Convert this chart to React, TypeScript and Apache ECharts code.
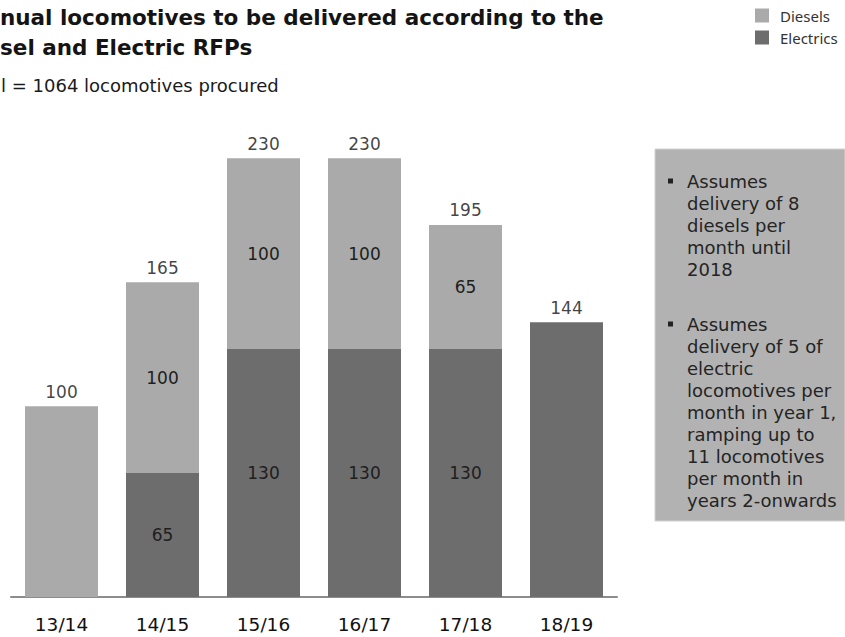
import React, { useEffect, useRef } from "react";
import * as echarts from "echarts";

const categories = ["13/14", "14/15", "15/16", "16/17", "17/18", "18/19"];
const diesels = [100, 100, 100, 100, 65, 0];
const electrics = [0, 65, 130, 130, 130, 144];
const totals = diesels.map((d, i) => d + electrics[i]);
const legendNames = ["Diesels", "Electrics"];
const titleLines = ["nual locomotives to be delivered according to the", "sel and Electric RFPs"];
const subtitle = "l = 1064 locomotives procured";
const noteDiesel = ["Assumes", "delivery of 8", "diesels per", "month until", "2018"];
const noteElectric = [
  "Assumes",
  "delivery of 5 of",
  "electric",
  "locomotives per",
  "month in year 1,",
  "ramping up to",
  "11 locomotives",
  "per month in",
  "years 2-onwards",
];

const BODY = "'DejaVu Sans', sans-serif";
const C_DIESEL = "#aaaaaa";
const C_ELEC = "#6d6d6d";

export default function App() {
  const ref = useRef<HTMLDivElement>(null);
  useEffect(() => {
    if (!ref.current) return;
    const chart = echarts.init(ref.current, undefined, { renderer: "svg" });

    const graphics: any[] = [];
    titleLines.forEach((t, i) => {
      graphics.push({
        type: "text",
        x: 0,
        y: 17 + i * 30,
        style: {
          text: t,
          fill: "#141414",
          fontSize: 21.5,
          fontWeight: "bold",
          fontFamily: "'DejaVu Sans', sans-serif",
          verticalAlign: "middle",
        },
      });
    });
    graphics.push({
      type: "text",
      x: 1,
      y: 85,
      style: { text: subtitle, fill: "#1a1a1a", fontSize: 18, fontFamily: BODY, verticalAlign: "middle" },
    });
    // note box
    graphics.push({
      type: "rect",
      shape: { x: 655, y: 149, width: 190, height: 372 },
      style: { fill: "#b2b2b2", stroke: "#d2d2d2", lineWidth: 1 },
    });
    const lh = 22;
    const addBlock = (lines: string[], y0: number) => {
      graphics.push({ type: "rect", shape: { x: 668, y: y0 - 2.5, width: 5, height: 5 }, style: { fill: "#222" } });
      lines.forEach((t, i) => {
        graphics.push({
          type: "text",
          x: 687,
          y: y0 + i * lh,
          style: { text: t, fill: "#242424", fontSize: 18, fontFamily: BODY, verticalAlign: "middle" },
        });
      });
    };
    addBlock(noteDiesel, 181);
    addBlock(noteElectric, 324);

    const both = (i: number) => diesels[i] > 0 && electrics[i] > 0;
    const innerLabel = { show: true, position: "inside", color: "#1e1e1e", fontSize: 17, fontFamily: BODY };

    chart.setOption({
      animation: false,
      grid: { left: 11, right: 228, top: 120, bottom: 40, containLabel: false },
      legend: {
        data: legendNames,
        orient: "vertical",
        left: 755,
        top: 8,
        padding: 0,
        icon: "rect",
        itemWidth: 14,
        itemHeight: 14,
        itemGap: 7,
        textStyle: {
          fontFamily: "'Noto Sans', sans-serif",
          fontSize: 15,
          color: "#333",
          padding: [0, 0, 0, 6],
        },
      },
      xAxis: {
        type: "category",
        data: categories,
        axisLine: { lineStyle: { color: "#8c8c8c", width: 2 } },
        axisTick: { show: false },
        axisLabel: { color: "#111", fontSize: 18.5, fontFamily: BODY, margin: 18 },
      },
      yAxis: { type: "value", min: 0, max: 250, show: false },
      series: [
        {
          name: "Electrics",
          type: "bar",
          stack: "total",
          barWidth: 73,
          itemStyle: { color: C_ELEC },
          label: innerLabel,
          data: electrics.map((v, i) => ({ value: v, label: { show: both(i) } })),
        },
        {
          name: "Diesels",
          type: "bar",
          stack: "total",
          barWidth: 73,
          itemStyle: { color: C_DIESEL },
          label: innerLabel,
          data: diesels.map((v, i) => ({ value: v, label: { show: both(i) } })),
        },
        {
          name: "Total",
          type: "scatter",
          symbolSize: 0,
          silent: true,
          data: totals,
          label: {
            show: true,
            position: "top",
            distance: 6,
            color: "#111",
            fontSize: 17,
            fontFamily: BODY,
            formatter: (p: any) => String(p.value),
          },
        },
      ],
      graphic: graphics,
    });
    return () => chart.dispose();
  }, []);
  return <div ref={ref} style={{ position: "fixed", left: 0, top: 0, width: 845, height: 637, background: "#fff" }} />;
}
